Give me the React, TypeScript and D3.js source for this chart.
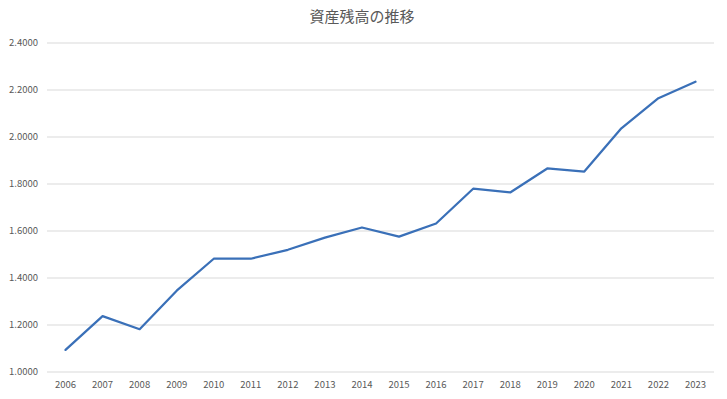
import React from 'react';
import * as d3 from 'd3';

const years = ['2006', '2007', '2008', '2009', '2010', '2011', '2012', '2013', '2014', '2015', '2016', '2017', '2018', '2019', '2020', '2021', '2022', '2023'];
const balances = [1.094, 1.238, 1.182, 1.346, 1.482, 1.482, 1.52, 1.572, 1.615, 1.576, 1.632, 1.78, 1.764, 1.866, 1.853, 2.037, 2.165, 2.235];
const yTicks = [1.0, 1.2, 1.4, 1.6, 1.8, 2.0, 2.2, 2.4];
const title = '資産残高の推移';

const width = 727;
const height = 399;
const margin = { top: 43, right: 13, bottom: 27, left: 47 };

const App = () => {
  const x = d3.scalePoint<string>()
    .domain(years)
    .range([margin.left, width - margin.right])
    .padding(0.5);

  const y = d3.scaleLinear()
    .domain([1.0, 2.4])
    .range([height - margin.bottom, margin.top]);

  const line = d3.line<number>()
    .x((d, i) => x(years[i]) as number)
    .y(d => y(d));

  const font = "'Noto Sans CJK JP', 'Noto Sans', sans-serif";

  return (
    <svg width={width} height={height} style={{ position: 'absolute', left: 0, top: 0, background: '#fff' }}>
      <text x={362} y={22} textAnchor="middle" fontFamily={font} fontSize={15} fill="#595959">
        {title}
      </text>

      {/* horizontal gridlines + y labels */}
      {yTicks.map(t => (
        <g key={t}>
          <line x1={margin.left} x2={width - margin.right} y1={y(t)} y2={y(t)} stroke="#d9d9d9" strokeWidth={1} />
          <text x={38} y={y(t)} dy="0.35em" textAnchor="end" fontFamily={font} fontSize={9.5} fill="#595959">
            {t.toFixed(4)}
          </text>
        </g>
      ))}

      {/* x labels */}
      {years.map(yr => (
        <text key={yr} x={x(yr)} y={height - 11} textAnchor="middle" fontFamily={font} fontSize={9.5} fill="#595959">
          {yr}
        </text>
      ))}

      <path d={line(balances) ?? ''} fill="none" stroke="#3a70b8" strokeWidth={2.25} strokeLinejoin="round" strokeLinecap="round" />
    </svg>
  );
};

export default App;
